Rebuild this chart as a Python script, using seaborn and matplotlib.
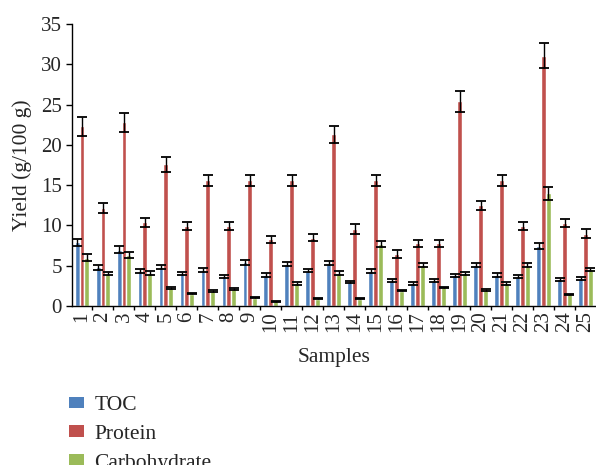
import pandas as pd
import numpy as np
import matplotlib
matplotlib.use("Agg")
import matplotlib.pyplot as plt
import seaborn as sns
from matplotlib.patches import Patch

# valores (g/100 g)
samples = [str(i) for i in range(1, 26)]
toc = [7.9, 4.8, 7.0, 4.4, 4.8, 4.0, 4.5, 3.7, 5.4, 3.9, 5.2, 4.4, 5.3,
       3.0, 4.4, 3.15, 2.8, 3.15, 3.8, 5.1, 3.85, 3.65, 7.45, 3.3, 3.4]
protein = [22.3, 12.2, 22.8, 10.4, 17.6, 9.9, 15.6, 9.9, 15.6, 8.3, 15.6, 8.5, 21.3,
           9.6, 15.6, 6.4, 7.8, 7.8, 25.4, 12.5, 15.6, 9.9, 31.1, 10.3, 9.0]
carbohydrate = [6.0, 4.0, 6.3, 4.1, 2.2, 1.5, 1.85, 2.07, 1.05, 0.6, 2.8, 0.9, 4.1,
                0.9, 7.7, 1.9, 5.1, 2.3, 4.05, 2.0, 2.8, 5.1, 14.0, 1.45, 4.55]

toc_err = [0.45, 0.3, 0.4, 0.25, 0.25, 0.2, 0.25, 0.2, 0.25, 0.25, 0.25, 0.2, 0.25,
           0.15, 0.25, 0.15, 0.15, 0.15, 0.2, 0.25, 0.2, 0.2, 0.35, 0.15, 0.15]
protein_err = [1.2, 0.6, 1.2, 0.55, 0.9, 0.5, 0.7, 0.5, 0.7, 0.45, 0.7, 0.45, 1.1,
               0.6, 0.7, 0.5, 0.45, 0.45, 1.3, 0.6, 0.7, 0.5, 1.6, 0.55, 0.55]
carb_err = [0.4, 0.2, 0.35, 0.2, 0.1, 0.05, 0.1, 0.1, 0.05, 0.05, 0.15, 0.05, 0.2,
            0.05, 0.4, 0.1, 0.25, 0.1, 0.2, 0.1, 0.15, 0.25, 0.8, 0.05, 0.2]

componentes = ["TOC", "Protein", "Carbohydrate"]
colores = ["#4F81BD", "#C0504D", "#9BBB59"]

df = pd.DataFrame({
    "sample": samples * 3,
    "component": np.repeat(componentes, len(samples)),
    "yield": toc + protein + carbohydrate,
})
errores = [toc_err, protein_err, carb_err]

sns.set_style("ticks")
plt.rcParams["font.family"] = ["Liberation Serif", "DejaVu Serif"]

fig = plt.figure(figsize=(5.96, 4.65), dpi=100)
ax = fig.add_axes([0.12, 0.342, 0.88, 0.606])

sns.barplot(data=df, x="sample", y="yield", hue="component", order=samples,
            hue_order=componentes, palette=colores, width=0.7, errorbar=None,
            saturation=1, legend=False, ax=ax)

# barras de error sobre cada barra
for cont, err in zip(ax.containers, errores):
    xs = [p.get_x() + p.get_width() / 2 for p in cont.patches]
    ys = [p.get_height() for p in cont.patches]
    ax.errorbar(xs, ys, yerr=err, fmt="none", ecolor="black",
                elinewidth=1.0, capsize=3.5, capthick=1.3, zorder=5)

ax.set_xlim(-0.5, len(samples) - 0.5)
ax.set_ylim(0, 35)
ax.set_yticks(range(0, 36, 5))
ax.tick_params(axis="y", labelsize=15, length=4, width=1, color="black", pad=3)
ax.set_xticks(range(len(samples)))
ax.set_xticklabels(samples, rotation=90, fontsize=15)
ax.tick_params(axis="x", which="major", length=0, pad=4)
ax.set_xticks(np.arange(0.5, len(samples) - 0.5, 1), minor=True)
ax.tick_params(axis="x", which="minor", length=3, width=1, color="black")

for s in ["left", "bottom"]:
    ax.spines[s].set_color("black")
    ax.spines[s].set_linewidth(1)
sns.despine(ax=ax)

ax.set_ylabel("Yield (g/100 g)", fontsize=15.5, labelpad=6)
ax.set_xlabel("Samples", fontsize=15.5, labelpad=11)

handles = [Patch(facecolor=c, edgecolor="none", label=l) for c, l in zip(colores, componentes)]
fig.legend(handles=handles, loc="upper left", bbox_to_anchor=(0.115, 0.148),
           frameon=False, fontsize=15.5, handlelength=0.7, handleheight=0.45,
           handletextpad=0.5, labelspacing=0.45, borderaxespad=0, borderpad=0)

fig.savefig("out.png", dpi=100)
